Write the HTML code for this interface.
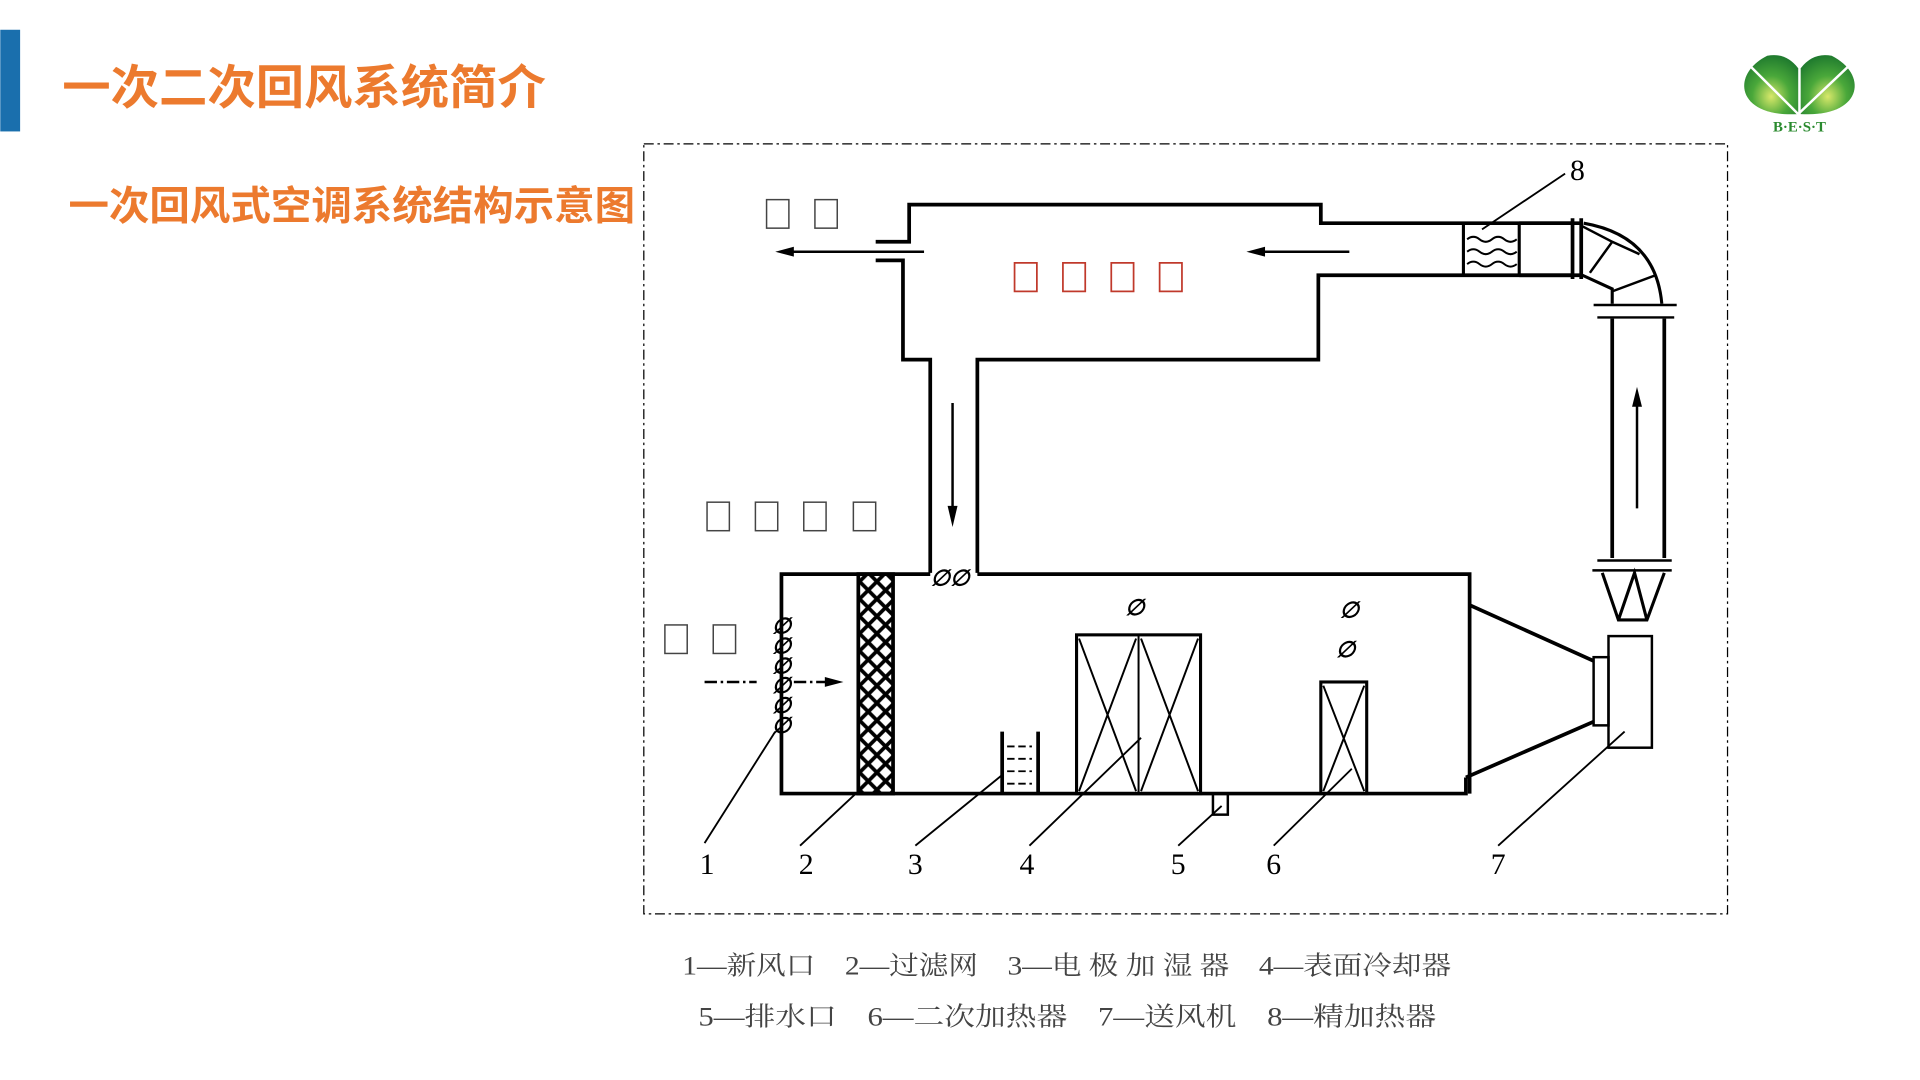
<!DOCTYPE html>
<html><head><meta charset="utf-8"><style>
html,body{margin:0;padding:0;background:#fff;width:1920px;height:1080px;overflow:hidden}
svg{display:block}
.t{font-family:"Liberation Sans","Noto Sans CJK SC",sans-serif;font-weight:bold;fill:#ec7a2e}
.n{font-family:"Liberation Serif","Noto Serif CJK SC",serif;font-size:24px;fill:#000}
.lg{font-family:"Liberation Serif","Noto Serif CJK SC",serif;font-size:21px;fill:#444}
</style></head><body>
<svg width="1920" height="1080" viewBox="0 0 1548 871" xmlns="http://www.w3.org/2000/svg">
<defs>
<radialGradient id="g" cx="0.5" cy="0.7" r="0.7"><stop offset="0" stop-color="#d8e86a"/><stop offset="0.5" stop-color="#4aa83a"/><stop offset="1" stop-color="#1f7a2e"/></radialGradient>
<pattern id="hx" width="14" height="14" patternUnits="userSpaceOnUse"><path d="M0 0L14 14M14 0L0 14" stroke="#000" stroke-width="3"/></pattern>
</defs>
<rect x="0" y="24" width="16" height="82" fill="#1a6fad"/>
<text class="t" x="50" y="84" font-size="38" textLength="390" lengthAdjust="spacingAndGlyphs">一次二次回风系统简介</text>
<text class="t" x="55" y="177" font-size="32" textLength="457" lengthAdjust="spacingAndGlyphs">一次回风式空调系统结构示意图</text>
<!-- logo -->
<path d="M1450 92 C1400 95 1395 60 1425 45 Q1440 42 1450 55Z" fill="url(#g)"/>
<path d="M1452 92 C1502 95 1507 60 1477 45 Q1462 42 1452 55Z" fill="url(#g)"/>
<path d="M1412 54 L1450 92 L1490 54" stroke="#fff" stroke-width="2" fill="none"/>
<text x="1451" y="106" font-family="Liberation Serif,serif" font-size="12" fill="#2a8a2e" text-anchor="middle" font-weight="bold">B·E·S·T</text>
<!-- dashed frame -->
<rect x="519" y="116" width="874" height="621" fill="none" stroke="#000" stroke-width="1" stroke-dasharray="8,3,2,3"/>
<g stroke="#000" stroke-width="3" fill="none">
<path d="M706 195H733V165H1065V180H1275"/>
<path d="M706 210H728V290H750V462"/>
<path d="M788 462V290H1063V222H1275"/>
<path d="M750 463H630V640H1182V627"/>
<path d="M788 463H1185V640"/>
<path d="M1185 488L1285 533M1182 627L1285 582"/>
<rect x="1285" y="530" width="12" height="55" stroke-width="2"/>
<rect x="1297" y="513" width="35" height="90" stroke-width="2"/>
<rect x="692" y="463" width="28" height="177" fill="url(#hx)"/>
<path d="M808 590V640M837 590V640" />
<path d="M812 602h20M812 612h20M812 622h20M812 632h20" stroke-width="1.5" stroke-dasharray="6,3"/>
<rect x="868" y="512" width="100" height="128" stroke-width="2.5"/>
<path d="M918 512V640M870 515L916 638M916 515L870 638M920 515L966 638M966 515L920 638" stroke-width="1.6"/>
<rect x="1065" y="550" width="37" height="90" stroke-width="2.5"/>
<path d="M1067 553L1100 638M1100 553L1067 638" stroke-width="1.6"/>
<rect x="978" y="640" width="12" height="17" stroke-width="2"/>
<rect x="1180" y="180" width="45" height="42" stroke-width="2.5"/>
<path d="M1225 180H1268V222H1225M1268 176V225M1275 176V225"/>
<path d="M1183 193q5-4 10 0t10 0t10 0t10 0M1183 203q5-4 10 0t10 0t10 0t10 0M1183 213q5-4 10 0t10 0t10 0t10 0" stroke-width="1.6"/>
<path d="M1277 180Q1335 190 1340 245M1300 245V233L1276 222" stroke-width="2.5"/>
<path d="M1300 235L1335 222M1282 220L1300 195L1275 182M1300 195L1322 205" stroke-width="2"/>
<path d="M1285 246H1352M1288 256H1350" stroke-width="2"/>
<path d="M1300 257V450M1342 257V450" stroke-width="3"/>
<path d="M1288 452H1348M1284 460H1348" stroke-width="2"/>
<path d="M1292 462L1305 500H1328L1342 462M1305 500L1318 462L1328 500" stroke-width="2.5"/>
<path d="M745 203H630" stroke-width="2"/>
<path d="M1088 203H1010" stroke-width="2"/>
<path d="M768 325V420" stroke-width="2"/>
<path d="M1320 410V318" stroke-width="2"/>
<path d="M568 550H610M640 550H672" stroke-width="2" stroke-dasharray="10,3,2,3"/>
<path d="M568 680L625 590M645 682L690 640M738 682L808 625M830 682L920 595M950 682L985 650M1027 682L1090 620M1208 682L1310 590M1195 185L1262 140" stroke-width="1.5"/>
<path d="M630 492v110" stroke-width="2"/>
</g>
<g fill="#000">
<polygon points="625,203 640,199 640,207"/>
<polygon points="1005,203 1020,199 1020,207"/>
<polygon points="768,425 764,408 772,408"/>
<polygon points="1320,312 1316,328 1324,328"/>
<polygon points="680,550 665,546 665,554"/>
</g>
<g font-family="Liberation Serif,serif" font-size="18" font-style="italic" fill="#000" font-weight="bold">
<text x="630" y="511" text-anchor="middle">∅</text><text x="630" y="527" text-anchor="middle">∅</text><text x="630" y="543" text-anchor="middle">∅</text><text x="630" y="559" text-anchor="middle">∅</text><text x="630" y="575" text-anchor="middle">∅</text><text x="630" y="591" text-anchor="middle">∅</text>
<text x="915" y="496" text-anchor="middle">∅</text>
<text x="1088" y="498" text-anchor="middle">∅</text>
<text x="1085" y="530" text-anchor="middle">∅</text>
<text x="766" y="472" text-anchor="middle">∅∅</text>
</g>
<g class="n" text-anchor="middle">
<text x="570" y="705">1</text><text x="650" y="705">2</text><text x="738" y="705">3</text><text x="828" y="705">4</text><text x="950" y="705">5</text><text x="1027" y="705">6</text><text x="1208" y="705">7</text><text x="1272" y="145">8</text>
</g>
<g fill="none" stroke="#444" stroke-width="1.2">
<rect x="618" y="161" width="18" height="23"/><rect x="657" y="161" width="18" height="23"/>
<rect x="570" y="405" width="18" height="23"/><rect x="609" y="405" width="18" height="23"/><rect x="648" y="405" width="18" height="23"/><rect x="688" y="405" width="18" height="23"/>
<rect x="536" y="504" width="18" height="23"/><rect x="575" y="504" width="18" height="23"/>
</g>
<g fill="none" stroke="#c0392b" stroke-width="1.4">
<rect x="818" y="212" width="18" height="23"/><rect x="857" y="212" width="18" height="23"/><rect x="896" y="212" width="18" height="23"/><rect x="935" y="212" width="18" height="23"/>
</g>
<text class="lg" x="550" y="786" textLength="620" lengthAdjust="spacingAndGlyphs">1—新风口　2—过滤网　3—电 极 加 湿 器　4—表面冷却器</text>
<text class="lg" x="563" y="827" textLength="595" lengthAdjust="spacingAndGlyphs">5—排水口　6—二次加热器　7—送风机　8—精加热器</text>
</svg>
</body></html>
